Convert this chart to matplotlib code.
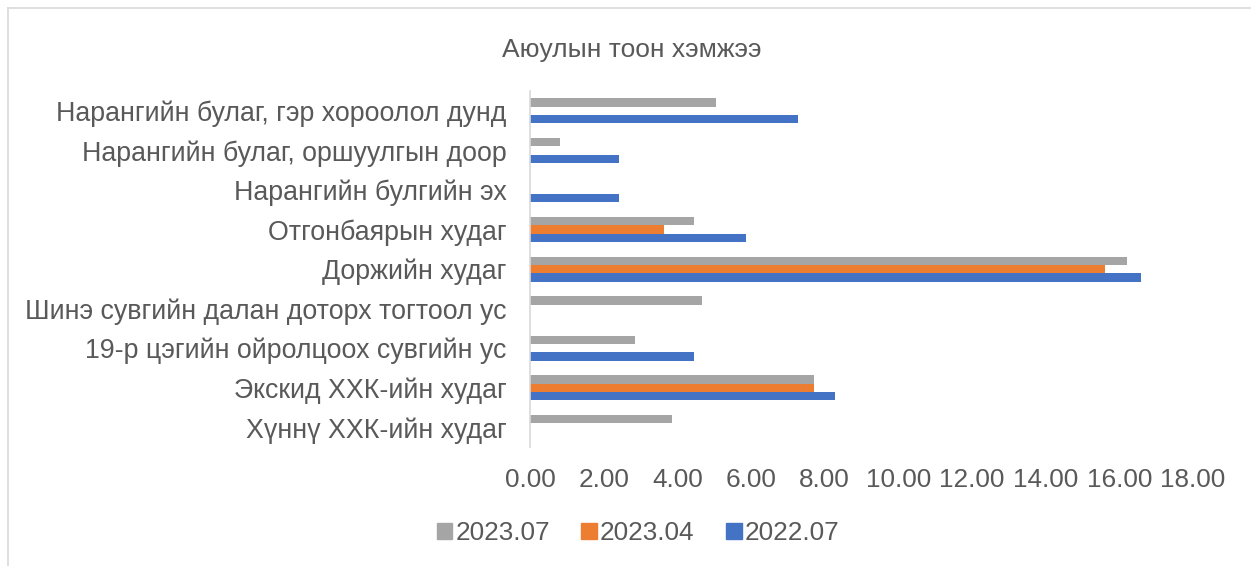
import numpy as np
import matplotlib.pyplot as plt
from matplotlib.patches import Patch
from matplotlib.lines import Line2D

plt.rcParams['font.family'] = ['Liberation Sans', 'DejaVu Sans']

# ангилал (дээрээс доош)
categories = [
    'Нарангийн булаг, гэр хороолол дунд',
    'Нарангийн булаг, оршуулгын доор',
    'Нарангийн булгийн эх',
    'Отгонбаярын худаг',
    'Доржийн худаг',
    'Шинэ сувгийн далан доторх тогтоол ус',
    '19-р цэгийн ойролцоох сувгийн ус',
    'Экскид ХХК-ийн худаг',
    'Хүннү ХХК-ийн худаг',
]
series_names = ['2023.07', '2023.04', '2022.07']
v_2023_07 = [5.06, 0.81, 0, 4.45, 16.2, 4.66, 2.85, 7.70, 3.85]
v_2023_04 = [0, 0, 0, 3.64, 15.6, 0, 0, 7.70, 0]
v_2022_07 = [7.28, 2.42, 2.42, 5.86, 16.6, 0, 4.46, 8.29, 0]
colors = ['#a5a5a5', '#ed7d31', '#4472c4']

txt = '#595959'

fig = plt.figure(figsize=(12.51, 5.66), dpi=100)
ax = fig.add_axes([0.4237, 0.210, 0.5299, 0.629])

y = np.arange(len(categories))
h = 0.21
for vals, off, c in zip([v_2023_07, v_2023_04, v_2022_07], [-h, 0, h], colors):
    ax.barh(y + off, vals, height=h, color=c)

ax.set_ylim(len(categories) - 0.5, -0.5)
ax.set_xlim(0, 18)
ax.set_xticks(np.arange(0, 19, 2))
ax.set_xticklabels(['%.2f' % t for t in np.arange(0, 19, 2)])
ax.set_yticks(y)
ax.set_yticklabels(categories)
ax.tick_params(axis='x', length=0, labelsize=18.8, colors=txt, pad=15)
ax.tick_params(axis='y', length=0, labelsize=19.3, colors=txt, pad=17)
for s in ['top', 'right', 'bottom']:
    ax.spines[s].set_visible(False)
ax.spines['left'].set_color('#d9d9d9')
ax.spines['left'].set_linewidth(1.2)

fig.text(0.505, 0.912, 'Аюулын тоон хэмжээ', ha='center', va='center',
         fontsize=19, color=txt)

handles = [Patch(color=c) for c in colors]
fig.legend(handles, series_names, loc='center', bbox_to_anchor=(0.51, 0.058),
           ncol=3, frameon=False, fontsize=18.8, labelcolor=txt,
           handlelength=0.6, handleheight=0.6, handletextpad=0.12,
           columnspacing=1.2)

# хүрээ
fig.add_artist(Line2D([8 / 1251, 8 / 1251], [0, 1 - 8 / 566],
                      transform=fig.transFigure, color='#d9d9d9', lw=1.2))
fig.add_artist(Line2D([8 / 1251, 1], [1 - 8 / 566, 1 - 8 / 566],
                      transform=fig.transFigure, color='#d9d9d9', lw=1.2))

fig.savefig('out.png', dpi=100)
